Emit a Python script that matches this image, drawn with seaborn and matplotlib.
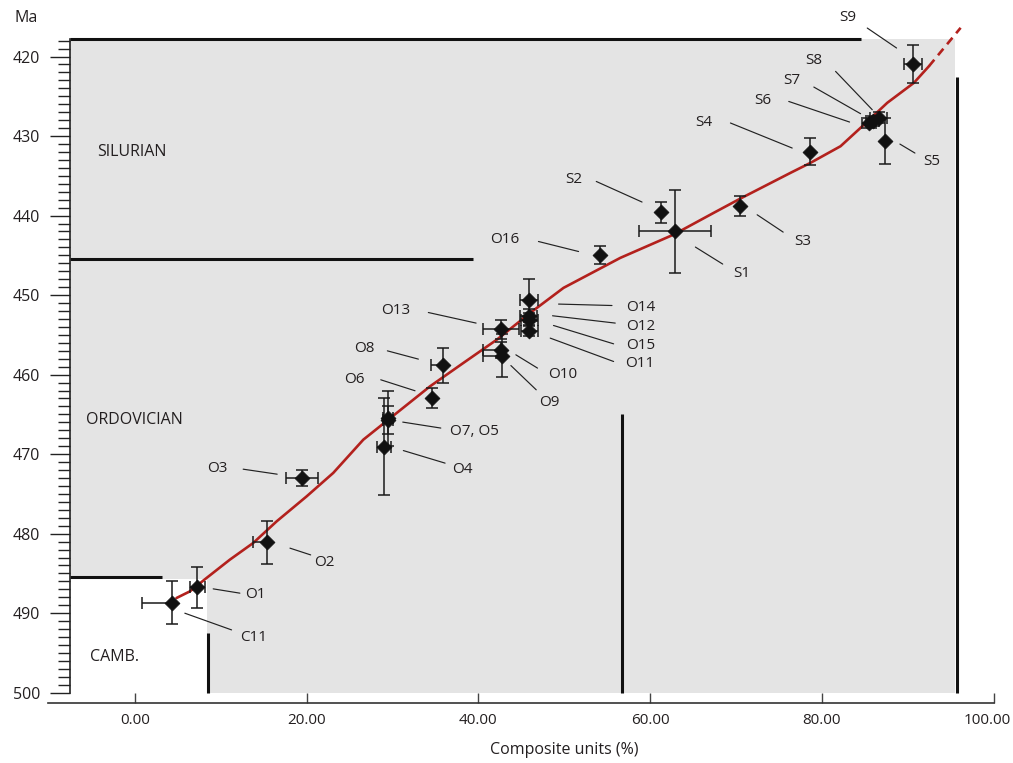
import numpy as np
import pandas as pd
import matplotlib
matplotlib.use("Agg")
import matplotlib.pyplot as plt
import matplotlib.transforms as mtransforms
import seaborn as sns
from matplotlib.ticker import FixedLocator, FormatStrFormatter

# ---------------- data ----------------
names = ["C11", "O1", "O2", "O3", "O4", "O5", "O7", "O6", "O8", "O13", "O10", "O9",
         "O14", "O12", "O15", "O11", "O16", "S1", "S2", "S3", "S4", "S5", "S6", "S7", "S8", "S9"]
comp = [4.39, 7.3, 15.35, 19.5, 29.05, 29.45, 29.5, 34.6, 35.86, 42.66, 42.66, 42.7,
        45.9, 45.85, 45.95, 45.95, 54.15, 62.94, 61.3, 70.5, 78.6, 87.37, 85.5, 85.9, 86.6, 90.6]
age = [488.7, 486.75, 481.1, 473.0, 469.1, 465.7, 465.5, 462.9, 458.8, 454.3, 456.9, 457.6,
       450.6, 452.6, 453.1, 454.5, 444.95, 441.97, 439.6, 438.8, 431.95, 430.57, 428.35, 428.1, 427.7, 420.9]
xerr_lo = [3.6, 0.9, 1.55, 1.85, 0.8, 0.6, 0.6, 0.0, 1.4, 2.07, 2.1, 2.1,
           1.0, 1.0, 1.0, 1.0, 0.0, 4.2, 0.0, 0.0, 0.0, 0.0, 0.8, 0.8, 1.0, 1.0]
xerr_hi = [0.0, 0.9, 0.0, 1.85, 0.8, 0.6, 0.6, 0.0, 0.0, 2.07, 0.0, 0.0,
           1.0, 1.0, 1.0, 1.0, 0.0, 4.2, 0.0, 0.0, 0.0, 0.0, 0.8, 0.8, 1.0, 1.0]
yerr = [2.7, 2.55, 2.75, 1.0, 6.1, 1.8, 3.5, 1.26, 2.2, 1.2, 1.0, 2.7,
        2.6, 0.8, 0.8, 0.7, 1.17, 5.2, 1.32, 1.2, 1.68, 2.9, 0.6, 0.6, 0.7, 2.37]

# composite-standard line of correlation (solid part, then projected dashed part)
curve_x = [4.86, 6.41, 8.36, 11.07, 13.79, 16.52, 20.01, 23.11, 26.61, 30.50, 34.38, 38.26,
           42.16, 46.04, 49.92, 56.53, 62.74, 67.40, 70.51, 76.34, 78.67, 82.17, 84.50,
           87.61, 90.71, 92.46]
curve_age = [488.09, 487.26, 485.57, 483.27, 481.17, 478.45, 475.31, 472.36, 468.18, 464.82,
             461.47, 458.53, 455.60, 452.24, 449.09, 445.32, 442.39, 439.66, 437.86, 434.63,
             433.37, 431.28, 428.97, 425.82, 423.31, 421.22]
dash_x = [92.46, 96.15]
dash_age = [421.22, 416.39]

# point labels with leader lines
label_text = ["S9", "S8", "S7", "S6", "S4", "S5", "S3", "S2", "S1", "O16", "O14", "O12", "O15",
              "O11", "O13", "O10", "O9", "O8", "O6", "O7, O5", "O4", "O3", "O2", "O1", "C11"]
label_x = [82.98, 79.06, 76.54, 73.16, 66.24, 92.74, 77.82, 51.17, 70.63, 43.12, 58.86, 58.86,
           58.86, 58.78, 30.42, 49.85, 48.25, 26.72, 25.52, 39.55, 38.15, 9.59, 22.06, 14.07, 13.79]
label_y = [415.12, 420.53, 423.04, 425.56, 428.24, 433.14, 443.26, 435.41, 447.32, 443.04, 451.51,
           453.95, 456.34, 458.64, 451.94, 460.03, 463.51, 456.67, 460.65, 467.16, 471.89, 471.76,
           483.58, 487.70, 493.02]
lead_x0 = [85.28, 81.59, 79.06, 76.14, 69.35, 89.08, 72.46, 53.73, 65.27, 47.0, 49.34, 48.64,
           48.75, 48.37, 34.18, 44.37, 43.79, 29.41, 28.64, 31.2, 31.27, 12.62, 18.07, 9.13, 5.83]
lead_y0 = [416.42, 421.87, 423.84, 425.65, 428.36, 431.01, 439.90, 435.71, 443.96, 443.26, 451.13,
           452.60, 453.82, 455.41, 452.19, 457.51, 458.86, 457.01, 460.65, 465.97, 469.55, 471.89,
           481.82, 486.94, 490.0]
lead_x1 = [88.69, 85.86, 84.50, 83.22, 76.54, 90.83, 75.49, 59.06, 68.45, 51.67, 55.56, 55.94,
           55.75, 55.75, 39.74, 46.89, 46.74, 33.02, 32.63, 35.63, 36.13, 16.58, 20.48, 12.24, 11.27]
lead_y1 = [418.93, 426.69, 427.19, 428.24, 431.51, 432.14, 442.08, 438.30, 446.10, 444.52, 451.31,
           453.52, 456.13, 458.35, 453.52, 459.18, 461.91, 458.05, 462.03, 466.72, 471.13, 472.52,
           482.67, 487.48, 492.1]

# geological periods
period_names = ["SILURIAN", "ORDOVICIAN", "CAMB."]
period_x = [-0.38, 0.0, -2.33]
period_y = [432.06, 465.67, 495.46]

# boundary lines: horizontal (age, x from, x to) and vertical (x, age from, age to)
hb_age = [417.75, 445.4, 485.5]
hb_x0 = [-7.58, -7.58, -7.58]
hb_x1 = [84.5, 39.4, 3.15]
vb_x = [8.5, 56.76, 95.75]
vb_age0 = [492.45, 465.0, 422.6]
vb_age1 = [500.0, 500.0, 500.0]

# shaded region outline
shade_x = [-7.58, 95.45, 95.45, 8.45, 8.45, -7.58]
shade_age = [417.8, 417.8, 500.0, 500.0, 485.7, 485.7]

x_ticks = [0, 20, 40, 60, 80, 100]
y_major = [420, 430, 440, 450, 460, 470, 480, 490, 500]
y_minor = [v for v in range(418, 501) if v not in y_major]

# ---------------- style ----------------
sns.set_theme(style="white")
plt.rcParams["font.family"] = ["Open Sans", "DejaVu Sans"]
TXT = "#231f20"
FS = 11

fig = plt.figure(figsize=(10.13, 7.63), dpi=100)
fig.patch.set_facecolor("white")
ax = fig.add_axes([48 / 1013, 0.07824, 945.7 / 1013, 0.91023])
ax.set_facecolor("white")

ax.set_xlim(-10.1, 100.0)
ax.set_ylim(501.33, 414.0)

# shaded area
ax.fill(shade_x, shade_age, color="#e4e4e4", lw=0, zorder=0)

# boundaries
for a, x0, x1 in zip(hb_age, hb_x0, hb_x1):
    ax.plot([x0, x1], [a, a], color="#111111", lw=2.2, solid_capstyle="butt", zorder=1)
for x, a0, a1 in zip(vb_x, vb_age0, vb_age1):
    ax.plot([x, x], [a0, a1], color="#111111", lw=2.2, solid_capstyle="butt", zorder=1)

# line of correlation
sns.lineplot(x=curve_x, y=curve_age, sort=False, estimator=None, color="#b3211d", lw=1.9,
             ax=ax, zorder=2)
sns.lineplot(x=dash_x, y=dash_age, sort=False, estimator=None, color="#b3211d", lw=1.9,
             linestyle=(0, (3.2, 2.2)), ax=ax, zorder=2)

# error bars
df = pd.DataFrame({"name": names, "comp": comp, "age": age,
                   "xlo": xerr_lo, "xhi": xerr_hi, "yerr": yerr})
ax.errorbar(df["comp"], df["age"], xerr=[df["xlo"], df["xhi"]], yerr=df["yerr"],
            fmt="none", ecolor="#1a1a1a", elinewidth=1.1, capsize=4, capthick=1.1, zorder=3)

# points
sns.scatterplot(data=df, x="comp", y="age", marker="D", s=58, color="#111111",
                edgecolor="#111111", linewidth=0.5, ax=ax, zorder=4, legend=False)

# labels + leader lines
for t, lx, ly, x0, y0, x1, y1 in zip(label_text, label_x, label_y, lead_x0, lead_y0, lead_x1, lead_y1):
    ax.plot([x0, x1], [y0, y1], color="#222222", lw=0.85, zorder=3)
    ax.text(lx, ly, t, ha="center", va="center", fontsize=FS, color=TXT, zorder=5)

for t, px, py in zip(period_names, period_x, period_y):
    ax.text(px, py, t, ha="center", va="center", fontsize=11.5, color=TXT, zorder=5)

# axes styling
for s in ["top", "right"]:
    ax.spines[s].set_visible(False)
ax.spines["left"].set_position(("data", -7.58))
ax.spines["left"].set_bounds(417.75, 500)
ax.spines["left"].set_color("#222222")
ax.spines["left"].set_linewidth(1.2)
ax.spines["bottom"].set_bounds(-10.1, 100)
ax.spines["bottom"].set_color("#333333")
ax.spines["bottom"].set_linewidth(1.2)

ax.yaxis.set_major_locator(FixedLocator(y_major))
ax.yaxis.set_minor_locator(FixedLocator(y_minor))
ax.yaxis.set_major_formatter(FormatStrFormatter("%d"))
ax.tick_params(axis="y", which="major", direction="out", length=14.4, width=1.0,
               color="#222222", labelsize=11.5, labelcolor=TXT, pad=7, left=True)
ax.tick_params(axis="y", which="minor", direction="out", length=8.6, width=1.0,
               color="#222222", left=True)

ax.xaxis.set_major_locator(FixedLocator(x_ticks))
ax.xaxis.set_major_formatter(FormatStrFormatter("%.2f"))
ax.tick_params(axis="x", which="major", direction="in", length=7.2, width=1.0,
               color="#444444", labelsize=11, labelcolor=TXT, pad=7, bottom=True)

# keep the last x tick label inside the figure (as in the reference, it sits slightly left)
last_lab = ax.get_xticklabels()[-1]
last_lab.set_transform(last_lab.get_transform() +
                       mtransforms.ScaledTranslation(-6 / 100, 0, fig.dpi_scale_trans))

ax.set_xlabel("Composite units (%)", fontsize=11.5, color=TXT)
ax.xaxis.set_label_coords(0.5456, -0.056)
ax.set_ylabel("")
fig.text(26 / 1013, 1 - 18 / 763, "Ma", ha="center", va="center", fontsize=11.5, color=TXT)

fig.savefig("out.png", dpi=100, facecolor="white")
